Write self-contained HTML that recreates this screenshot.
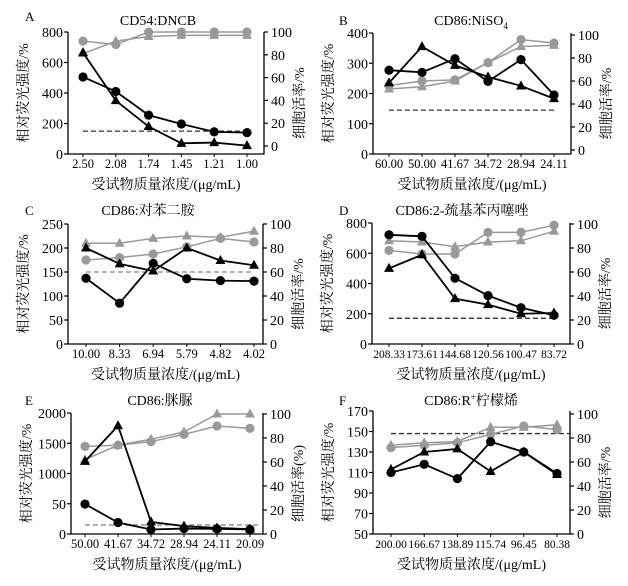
<!DOCTYPE html>
<html><head><meta charset="utf-8">
<style>
html,body{margin:0;padding:0;background:#fff;}
svg text{font-family:"Liberation Serif","Noto Serif CJK SC","Noto Sans CJK SC",serif;fill:#000;}
</style></head>
<body>
<svg id="chart" width="628" height="581" xmlns="http://www.w3.org/2000/svg"></svg>
<script>
// ---- data ----
const catA = ["2.50","2.08","1.74","1.45","1.21","1.00"];
const catB = ["60.00","50.00","41.67","34.72","28.94","24.11"];
const catC = ["10.00","8.33","6.94","5.79","4.82","4.02"];
const catD = ["208.33","173.61","144.68","120.56","100.47","83.72"];
const catE = ["50.00","41.67","34.72","28.94","24.11","20.09"];
const catF = ["200.00","166.67","138.89","115.74","96.45","80.38"];

const circA = [505,410,255,197,145,140];
const triA  = [665,350,180,70,75,55];
const gCircA = [92,89,100,100,100,100];
const gTriA  = [81,92,96,97,97,97];
const cutA = 150;

const circB = [277,270,315,240,312,195];
const triB  = [235,355,293,255,225,183];
const gCircB = [56,60,61,76,96,93];
const gTriB  = [53,55,60,76,90,91];
const cutB = 145;

const circC = [137,85,168,136,132,131];
const triC  = [200,167,152,200,174,164];
const gCircC = [70,72,75,81,88,85];
const gTriC  = [84,84,88,90,89,94];
const cutC = 150;

const circD = [722,712,435,320,240,190];
const triD  = [500,590,300,260,200,205];
const gCircD = [78,75,75,93,93,99];
const gTriD  = [86,85,81,85,86,94];
const cutD = 170;

const circE = [495,190,75,90,85,75];
const triE  = [1200,1790,200,130,100,80];
const gCircE = [73,74,77,83,90,88];
const gTriE  = [62,74,79,85,100,100];
const cutE = 150;

const circF = [110,118,104,140,130,109];
const triF  = [113,130,133,111,130,108];
const gCircF = [72,74,76,83,90,87];
const gTriF  = [74,76,77,89,89,91];
const cutF = 148;

const ticksA = [0,200,400,600,800];
const ticksB = [0,100,200,300,400];
const ticksC = [0,50,100,150,200,250];
const ticksD = [0,200,400,600,800];
const ticksE = [0,500,1000,1500,2000];
const tickLabelsE = ["0","50","1000","1500","2000"];
const ticksF = [50,70,90,110,130,150,170];
const rTicks = [0,20,40,60,80,100];

const panels = [
 {id:"a",letter:"A",title:"CD54:DNCB",ox:0,oy:0,lx:68,rx:264,lyMin:154,lyMax:32,lmin:0,lmax:800,ryMin:146,ryMax:32,x0:83,x1:247,cats:catA,circ:circA,tri:triA,gc:gCircA,gt:gTriA,cut:cutA,ticks:ticksA,tl:null,rt:"细胞活率/%",tx:158,ty:25,gray:false,cutEnd:0,xfs:12.5},
 {id:"b",letter:"B",title:"CD86:NiSO",sub:"4",ox:314,oy:0,lx:59,rx:257,lyMin:154,lyMax:33,lmin:0,lmax:400,ryMin:150,ryMax:35,x0:75,x1:240,cats:catB,circ:circB,tri:triB,gc:gCircB,gt:gTriB,cut:cutB,ticks:ticksB,tl:null,rt:"细胞活率/%",tx:157,ty:25,gray:false,cutEnd:0,xfs:12.5},
 {id:"c",letter:"C",title:"CD86:对苯二胺",ox:0,oy:195,lx:68,rx:263,lyMin:149,lyMax:29,lmin:0,lmax:250,ryMin:149,ryMax:29,x0:86,x1:254,cats:catC,circ:circC,tri:triC,gc:gCircC,gt:gTriC,cut:cutC,ticks:ticksC,tl:null,rt:"细胞活率/%",tx:148,ty:20,gray:true,cutEnd:0,xfs:12.5},
 {id:"d",letter:"D",title:"CD86:2-巯基苯丙噻唑",ox:314,oy:195,lx:58,rx:256,lyMin:149,lyMax:28,lmin:0,lmax:800,ryMin:149,ryMax:29,x0:75,x1:240,cats:catD,circ:circD,tri:triD,gc:gCircD,gt:gTriD,cut:cutD,ticks:ticksD,tl:null,rt:"细胞活率/%",tx:148,ty:20,gray:false,cutEnd:0,xfs:11.5},
 {id:"e",letter:"E",title:"CD86:脒脲",ox:0,oy:385,lx:71,rx:263,lyMin:149,lyMax:28,lmin:0,lmax:2000,ryMin:149,ryMax:29,x0:85,x1:250,cats:catE,circ:circE,tri:triE,gc:gCircE,gt:gTriE,cut:cutE,ticks:ticksE,tl:tickLabelsE,rt:"细胞活率(%)",tx:160,ty:20,gray:true,cutEnd:9,xfs:12.5},
 {id:"f",letter:"F",title:"CD86:R",sup:"+",title2:"柠檬烯",ox:314,oy:385,lx:59,rx:256,lyMin:149,lyMax:26,lmin:50,lmax:170,ryMin:149,ryMax:29,x0:77,x1:243,cats:catF,circ:circF,tri:triF,gc:gCircF,gt:gTriF,cut:cutF,ticks:ticksF,tl:null,rt:"细胞活率/%",tx:157,ty:20,gray:false,cutEnd:14,xfs:11.5}
];

const NS="http://www.w3.org/2000/svg";
const svg=document.getElementById('chart');
function mk(tag,attrs,parent){const e=document.createElementNS(NS,tag);for(const k in attrs)e.setAttribute(k,attrs[k]);parent.appendChild(e);return e;}

panels.forEach(p=>{
  const g=mk('g',{transform:`translate(${p.ox},${p.oy})`},svg);
  
  
  const yL=v=>p.lyMin+(v-p.lmin)/(p.lmax-p.lmin)*(p.lyMax-p.lyMin);
  const yR=v=>p.ryMin+v/100*(p.ryMax-p.ryMin);
  const xS=i=>p.x0+i*(p.x1-p.x0)/(p.cats.length-1);
  const bottom=p.lyMin, top=Math.min(p.lyMax,p.ryMax);
  const ax=mk('path',{d:`M${p.lx},${top}V${bottom}H${p.rx}V${top}`,fill:'none',stroke:'#000','stroke-width':1.3},g);
  
  
  const lt=mk('text',{x:25,y:p.id==='a'?21:(p.oy?20:25),'font-size':13},g);lt.textContent=p.letter;
  
  
  const tt=mk('text',{x:p.tx,y:p.ty,'font-size':14,'text-anchor':'middle'},g);
  
  
  tt.appendChild(document.createTextNode(p.title));
  if(p.sub){const s=mk('tspan',{'font-size':9,dy:4},tt);s.textContent=p.sub;}
  if(p.sup){const s=mk('tspan',{'font-size':9,dy:-5},tt);s.textContent=p.sup;const s2=mk('tspan',{dy:5},tt);s2.textContent=p.title2;}
  p.ticks.forEach((t,i)=>{
    const y=yL(t);
    mk('line',{x1:p.lx-4,x2:p.lx,y1:y,y2:y,stroke:'#000','stroke-width':1.2},g);
    const tx=mk('text',{x:p.lx-5,y:y+5,'font-size':14,'text-anchor':'end'},g);
    tx.textContent=p.tl?p.tl[i]:String(t);
    
    
  });
  rTicks.forEach(t=>{
    const y=yR(t);
    mk('line',{x1:p.rx,x2:p.rx+4,y1:y,y2:y,stroke:'#000','stroke-width':1.2},g);
    const tx=mk('text',{x:p.rx+7,y:y+5,'font-size':14},g);
    tx.textContent=String(t);
    
    
  });
  p.cats.forEach((c,i)=>{
    const x=xS(i);
    mk('line',{x1:x,x2:x,y1:bottom,y2:bottom+3,stroke:'#000','stroke-width':1},g);
    const tx=mk('text',{x:x,y:bottom+14,'font-size':p.xfs,'text-anchor':'middle'},g);
    tx.textContent=c;
    
    
  });
  const xt=mk('text',{x:(p.lx+p.rx)/2,y:bottom+35,'font-size':14,'text-anchor':'middle'},g);
  xt.textContent='受试物质量浓度/(μg/mL)';
  
  
  const cy=(bottom+top)/2;
  const ly=mk('text',{x:0,y:0,'font-size':14,'text-anchor':'middle',transform:`translate(${p.lx-40},${cy}) rotate(-90)`},g);
  ly.textContent='相对荧光强度/%';
  
  
  const ry=mk('text',{x:0,y:0,'font-size':14,'text-anchor':'middle',transform:`translate(${p.rx+40},${cy+10}) rotate(-90)`},g);
  ry.textContent=p.rt;
  
  
  const dl=mk('line',{x1:xS(0),x2:xS(p.cats.length-1)+p.cutEnd,y1:yL(p.cut),y2:yL(p.cut),stroke:p.gray?'#888':'#333','stroke-width':1.3,'stroke-dasharray':'5,3'},g);
  
  
  function series(vals,yf,color,shape,name,sw){
    const pts=vals.map((v,i)=>[xS(i),yf(v)]);
    const pl=mk('polyline',{points:pts.map(q=>q.join(',')).join(' '),fill:'none',stroke:color,'stroke-width':sw},g);
    
    
    pts.forEach(([x,y])=>{
      let m;
      if(shape==='c') m=mk('circle',{cx:x,cy:y,r:4.6,fill:color},g);
      else m=mk('path',{d:`M${x},${y-5.5}L${x+5},${y+3.5}L${x-5},${y+3.5}Z`,fill:color},g);
      
      
    });
  }
  series(p.gc,yR,'#999','c','viability-circle',1.5);
  series(p.gt,yR,'#999','t','viability-triangle',1.5);
  series(p.circ,yL,'#000','c','fluorescence-circle',1.8);
  series(p.tri,yL,'#000','t','fluorescence-triangle',1.8);
});
</script>
</body></html>
